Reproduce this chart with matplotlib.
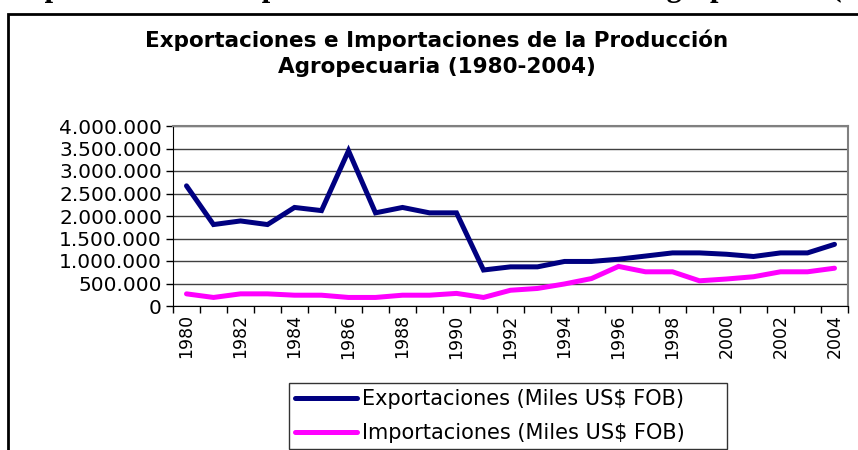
import matplotlib.pyplot as plt
import matplotlib.patches as patches
from matplotlib.ticker import FuncFormatter

### Data (miles US$ FOB)
years = list(range(1980, 2005))
exportaciones = [2670000, 1810000, 1890000, 1810000, 2190000, 2120000, 3450000, 2070000,
                 2190000, 2070000, 2070000, 800000, 870000, 870000, 990000, 990000,
                 1040000, 1110000, 1180000, 1180000, 1150000, 1100000, 1180000, 1180000,
                 1370000]
importaciones = [270000, 190000, 270000, 270000, 240000, 240000, 190000, 190000,
                 240000, 240000, 280000, 190000, 350000, 390000, 490000, 610000,
                 880000, 760000, 760000, 560000, 600000, 650000, 760000, 760000,
                 840000]
y_ticks = [0, 500000, 1000000, 1500000, 2000000, 2500000, 3000000, 3500000, 4000000]

navy = '#000080'
magenta = '#FF00FF'
text_colour = 'black'

plt.rcParams['font.family'] = ['DejaVu Sans']

### Create figure
fig = plt.figure(figsize=(8.58, 4.5), dpi=100)
fig.set_facecolor('white')

### Cropped caption of the document (only the bottom of the glyphs shows)
fig.text(9 / 858, 1 + 3.5 / 450,
         'Exportaciones e Importaciones de la Producción Agropecuaria (1980-2004)',
         fontsize=22, fontweight='bold', family='Liberation Serif',
         ha='left', va='baseline', color=text_colour)

### Outer chart frame
frame = patches.Rectangle((8 / 858, -0.1), 1.2, (450 - 14) / 450 + 0.1,
                          transform=fig.transFigure, fill=False,
                          edgecolor='black', linewidth=2, clip_on=False)
fig.add_artist(frame)

### Chart title
fig.text(437 / 858, 1 - 40 / 450, 'Exportaciones e Importaciones de la Producción',
         fontsize=15.5, fontweight='bold', ha='center', va='center', color=text_colour)
fig.text(437 / 858, 1 - 67 / 450, 'Agropecuaria (1980-2004)',
         fontsize=15.5, fontweight='bold', ha='center', va='center', color=text_colour)

### Plot area
ax = fig.add_axes([173 / 858, 1 - 306 / 450, 675 / 858, 180 / 450])
x = list(range(len(years)))
ax.plot(x, exportaciones, color=navy, linewidth=3.6, solid_capstyle='round',
        solid_joinstyle='miter', label='Exportaciones (Miles US$ FOB)', zorder=5)
ax.plot(x, importaciones, color=magenta, linewidth=3.6, solid_capstyle='round',
        solid_joinstyle='miter', label='Importaciones (Miles US$ FOB)', zorder=4)

ax.set_xlim(-0.5, len(years) - 0.5)
ax.set_ylim(0, 4000000)

### Y axis
ax.set_yticks(y_ticks)
ax.yaxis.set_major_formatter(FuncFormatter(lambda v, p: f'{int(v):,}'.replace(',', '.')))
ax.tick_params(axis='y', direction='out', length=5, width=1, labelsize=14.5, pad=3,
               colors=text_colour)
ax.grid(axis='y', color='#404040', linewidth=1, zorder=1)

### X axis: ticks between categories, labels every other year
ax.set_xticks([i - 0.5 for i in range(len(years) + 1)], minor=True)
ax.set_xticks(x[::2])
ax.set_xticklabels([str(y) for y in years[::2]], rotation=90, fontsize=12.5)
ax.tick_params(axis='x', which='major', length=0, pad=6)
ax.tick_params(axis='x', which='minor', direction='out', length=5, width=1)

### Spines
ax.spines['left'].set_color('black')
ax.spines['bottom'].set_color('black')
ax.spines['top'].set_color('#808080')
ax.spines['right'].set_color('#808080')
for s in ['top', 'right']:
    ax.spines[s].set_linewidth(1.5)

### Legend
leg = ax.legend(loc='lower left', bbox_to_anchor=(289 / 858, 1 / 450, 438 / 858, 67 / 450),
                bbox_transform=fig.transFigure, mode='expand', fontsize=15,
                frameon=True, fancybox=False, handlelength=3.0, handletextpad=0.2,
                borderaxespad=0, borderpad=0.28, labelspacing=0.68)
leg.get_frame().set_edgecolor('black')
leg.get_frame().set_linewidth(1)

### Save figure
fig.savefig('out.png', dpi=100)
